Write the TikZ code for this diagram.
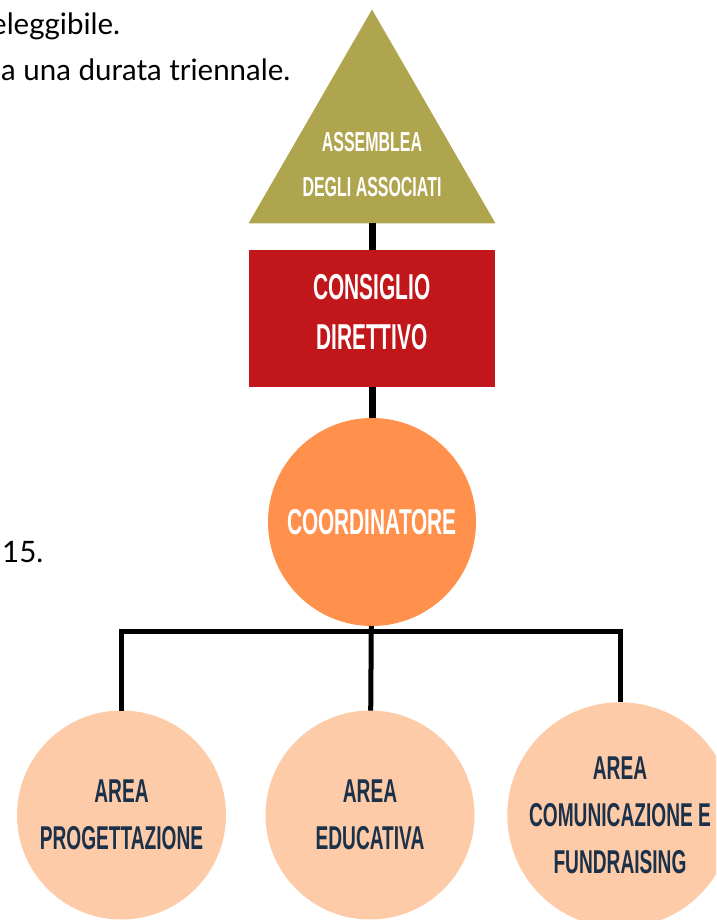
\documentclass[tikz,border=0pt]{standalone}
\usepackage{fontspec}
\usetikzlibrary{positioning,shapes.geometric}
\newfontfamily\bodyfont{Lato}
\newfontfamily\headfont{Liberation Sans Bold}[FakeStretch=0.58]
\definecolor{assolive}{HTML}{B0A54F}
\definecolor{consred}{HTML}{C1171A}
\definecolor{coordorange}{HTML}{FF914D}
\definecolor{areapeach}{HTML}{FDCBA8}
\definecolor{areanavy}{HTML}{1B3049}
\tikzset{
  body/.style={font=\bodyfont\fontsize{29.5}{34}\selectfont, anchor=base west, inner sep=0pt},
  tri/.style={regular polygon, regular polygon sides=3, minimum size=285pt, fill=assolive, inner sep=0pt, outer sep=0pt},
  cons/.style={rectangle, minimum width=246pt, minimum height=137pt, fill=consred, outer sep=0pt},
  coord/.style={circle, minimum size=208pt, fill=coordorange, text=white, outer sep=0pt,
    font=\headfont\fontsize{36}{47}\selectfont},
  area/.style={circle, minimum size=209pt, fill=areapeach, text=areanavy, align=center, outer sep=0pt,
    font=\headfont\fontsize{33}{47}\selectfont},
  thick bar/.style={draw=black, line width=7pt},
  thin bar/.style={draw=black, line width=5pt},
}
\begin{document}
\begin{tikzpicture}[x=1pt,y=-1pt]
\clip (0,0) rectangle (716,920);
% text left over from the page
\node[body] (t1) at (-9,35) {eleggibile.};
\node[body] (t2) at (1,81) {a una durata triennale.};
\node[body] (t3) at (2,562) {15.};
% top of the chart
\node[tri] (ass) at (372,152) {};
\node[text=white, align=center, font=\headfont\fontsize{27.5}{45}\selectfont] (asstxt) at (372,165) {ASSEMBLEA\\DEGLI ASSOCIATI};
\node[cons] (cd) at (372,318.5) {};
\node[text=white, align=center, font=\headfont\fontsize{36}{50}\selectfont] (cdtxt) at (372,312) {CONSIGLIO\\DIRETTIVO};
\node[coord, below=31pt of cd] (co) {COORDINATORE};
\coordinate (hub) at (370,631);
% the three areas
\node[area] (prog) at (121.5,815) {AREA\\PROGETTAZIONE};
\node[area] (edu) at (370,815) {AREA\\EDUCATIVA};
\node[area] (comm) at (620,815) {AREA\\COMUNICAZIONE E\\FUNDRAISING};
\draw[thick bar] (ass.side 2) -- (cd);
\draw[thick bar] (cd) -- (co);
\draw[thin bar] (co) -- (edu);
\draw[thin bar] (prog) |- (hub) -| (comm);
\end{tikzpicture}
\end{document}
